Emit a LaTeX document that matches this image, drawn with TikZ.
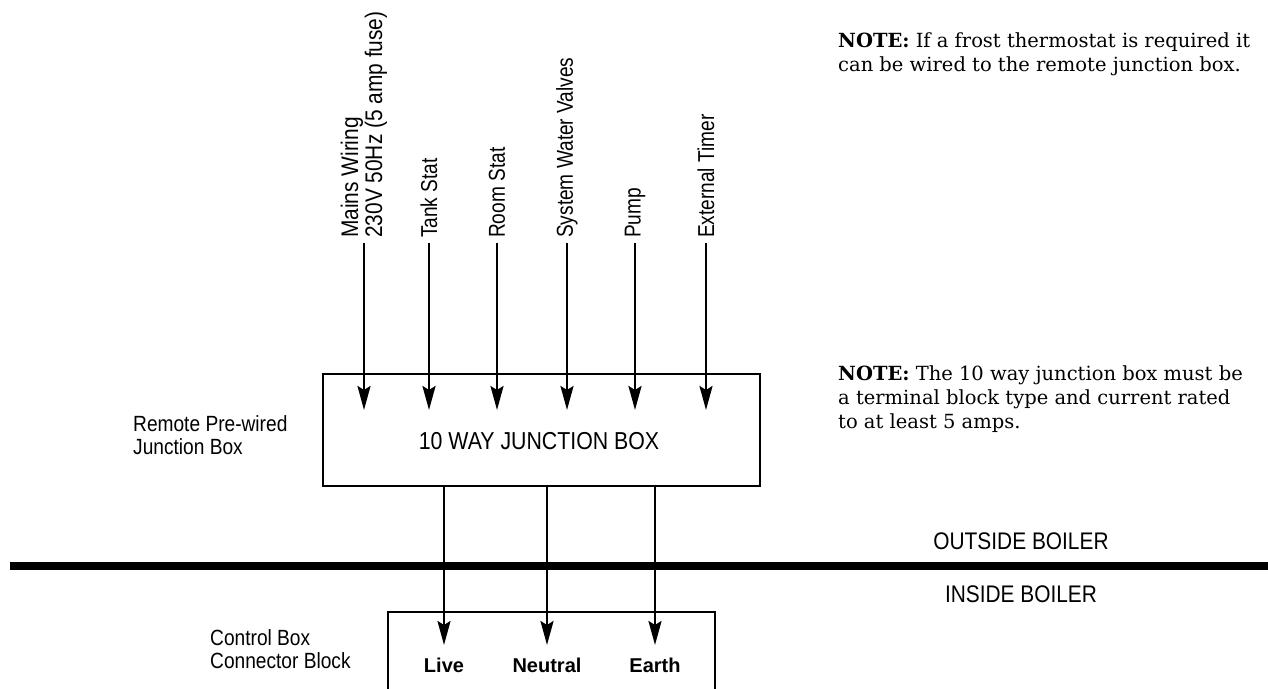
\documentclass[tikz,border=0pt]{standalone}
\usepackage{fontspec}
\setmainfont{Liberation Sans}
\newfontfamily\labfont[FakeStretch=0.87]{Liberation Sans}
\newfontfamily\vlabfont[FakeStretch=0.83]{Liberation Sans}
\newfontfamily\notefont{DejaVu Serif}
\usetikzlibrary{arrows.meta}
\tikzset{
  lbl/.style={font=\labfont\fontsize{22}{23.5}\selectfont, inner sep=0pt},
  vlbl/.style={font=\vlabfont\fontsize{23}{24}\selectfont, rotate=90, anchor=west, align=left, inner xsep=5pt, inner ysep=0pt},
  wire/.style={line width=2.5pt, -{Stealth[length=24pt,width=13pt,inset=4pt]}},
  boxline/.style={draw, line width=2.8pt},
  bterm/.style={font=\bfseries\fontsize{20}{22}\selectfont, inner sep=0pt, anchor=base},
  notetext/.style={font=\notefont\fontsize{19.5}{24}\selectfont, align=left, anchor=north west, inner sep=0pt},
}
\begin{document}
\begin{tikzpicture}[x=1pt,y=-1pt]
\useasboundingbox (0,0) rectangle (1268,688);
% junction box
\node[boxline, minimum width=437pt, minimum height=112pt, inner sep=0pt] (jb) at (541.5,430) {};
\node[lbl, font=\labfont\fontsize{24.5}{28}\selectfont, anchor=base] (jbt) at (539,449) {10 WAY JUNCTION BOX};
% tip coordinates
\coordinate (tip) at (0,410);
\coordinate (ctip) at (0,645);
% top labels
\node[vlbl, font=\labfont\fontsize{24}{24}\selectfont] (l1) at (364,243) {Mains Wiring\\230V 50Hz (5 amp fuse)};
\node[vlbl] (l2) at (429,243) {Tank Stat};
\node[vlbl] (l3) at (497,243) {Room Stat};
\node[vlbl] (l4) at (567,243) {System Water Valves};
\node[vlbl] (l5) at (635,243) {Pump};
\node[vlbl] (l6) at (706,243) {External Timer};
\foreach \n in {l1,l2,l3,l4,l5,l6}{
  \draw[wire] (\n.west) -- (\n.west |- tip);
}
% left labels
\node[lbl, anchor=west, align=left] (rem) at (133,435) {Remote Pre-wired\\Junction Box};
\node[lbl, anchor=west, align=left] (ctl) at (210,649) {Control Box\\Connector Block};
% boiler wall
\coordinate (wl) at (10,566);
\coordinate (wr) at (1268,566);
\draw[line width=7.5pt] (wl) -- (wr);
\node[lbl, font=\labfont\fontsize{24}{28}\selectfont, anchor=base] (out) at (1021,549) {OUTSIDE BOILER};
\node[lbl, font=\labfont\fontsize{24}{28}\selectfont, anchor=base] (in) at (1021,602) {INSIDE BOILER};
% control box
\node[boxline, minimum width=327pt, minimum height=100pt, inner sep=0pt] (cb) at (551.5,662) {};
\node[bterm] (live) at (444,672) {Live};
\node[bterm] (neu) at (547,672) {Neutral};
\node[bterm] (earth) at (655,672) {Earth};
\draw[wire] (jb.south -| live) -- (live |- ctip);
\draw[wire] (jb.south -| neu) -- (neu |- ctip);
\draw[wire] (jb.south -| earth) -- (earth |- ctip);
% notes
\node[notetext] (n1) at (838,32) {{\bfseries NOTE:} If a frost thermostat is required it\\can be wired to the remote junction box.};
\node[notetext] (n2) at (838,365) {{\bfseries NOTE:} The 10 way junction box must be\\a terminal block type and current rated\\to at least 5 amps.};
\end{tikzpicture}
\end{document}
